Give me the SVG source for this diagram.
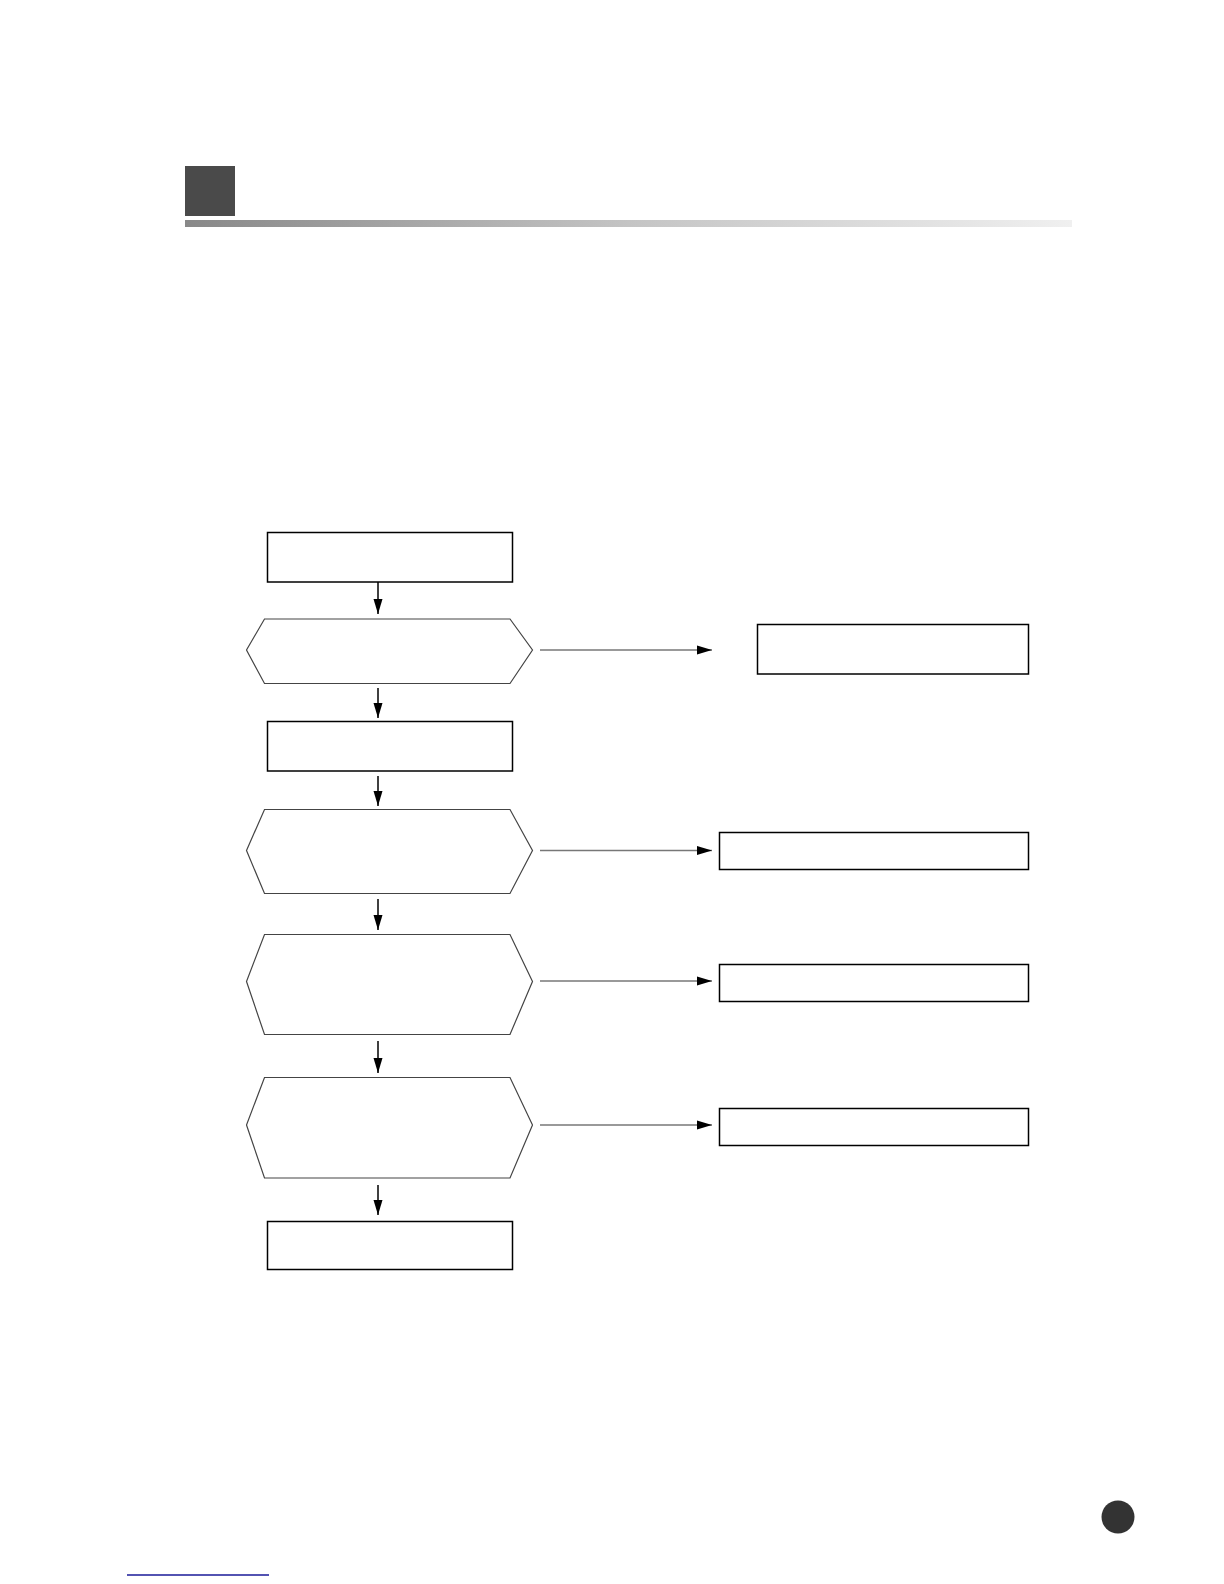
<svg xmlns="http://www.w3.org/2000/svg" width="1224" height="1584" viewBox="0 0 1224 1584">
<defs>
<linearGradient id="bar" x1="0" y1="0" x2="1" y2="0">
<stop offset="0" stop-color="#888"/>
<stop offset="0.5" stop-color="#c4c4c4"/>
<stop offset="1" stop-color="#f0f0f0"/>
</linearGradient>
<marker id="ah" markerWidth="16" markerHeight="10" refX="15" refY="5" orient="auto" markerUnits="userSpaceOnUse">
<path d="M0,0.5 L15,5 L0,9.5 Z" fill="#000"/>
</marker>
<style>
.box{fill:#fff;stroke:#000;stroke-width:1.5}
.hex{fill:#fff;stroke:#444;stroke-width:1.2}
.v{stroke:#000;stroke-width:1.5;fill:none}
.h{stroke:#777;stroke-width:1.5;fill:none}
</style>
</defs>
<rect width="1224" height="1584" fill="#fff"/>
<g id="header">
<rect x="185" y="166" width="50" height="50" fill="#4a4a4a"/>
<rect x="185" y="220" width="887" height="7" fill="url(#bar)"/>
</g>
<g id="connectors">
<line class="v" x1="378" y1="582" x2="378" y2="614" marker-end="url(#ah)"/>
<line class="v" x1="378" y1="688" x2="378" y2="718" marker-end="url(#ah)"/>
<line class="v" x1="378" y1="776" x2="378" y2="806" marker-end="url(#ah)"/>
<line class="v" x1="378" y1="899" x2="378" y2="930" marker-end="url(#ah)"/>
<line class="v" x1="378" y1="1041" x2="378" y2="1073" marker-end="url(#ah)"/>
<line class="v" x1="378" y1="1185" x2="378" y2="1215" marker-end="url(#ah)"/>
<line class="h" x1="540" y1="650" x2="712" y2="650" marker-end="url(#ah)"/>
<line class="h" x1="540" y1="850.5" x2="712" y2="850.5" marker-end="url(#ah)"/>
<line class="h" x1="540" y1="981" x2="712" y2="981" marker-end="url(#ah)"/>
<line class="h" x1="540" y1="1125" x2="712" y2="1125" marker-end="url(#ah)"/>
</g>
<g id="n1"><rect class="box" x="267.5" y="532.5" width="245" height="49.5"/></g>
<g id="d1"><polygon class="hex" points="264.5,619 510,619 532.5,650 510,683.5 264.5,683.5 246.5,650"/></g>
<g id="r1"><rect class="box" x="757.5" y="624.5" width="271" height="49.5"/></g>
<g id="n2"><rect class="box" x="267.5" y="721.5" width="245" height="49.5"/></g>
<g id="d2"><polygon class="hex" points="264.5,809.5 510,809.5 532.5,850.5 510,893.5 264.5,893.5 246.5,850.5"/></g>
<g id="r2"><rect class="box" x="719.5" y="832.5" width="309" height="37"/></g>
<g id="d3"><polygon class="hex" points="264.5,934.5 510,934.5 532.5,981.5 510,1034.5 264.5,1034.5 246.5,981.5"/></g>
<g id="r3"><rect class="box" x="719.5" y="964.5" width="309" height="37"/></g>
<g id="d4"><polygon class="hex" points="264.5,1077.5 510,1077.5 532.5,1125 510,1178 264.5,1178 246.5,1125"/></g>
<g id="r4"><rect class="box" x="719.5" y="1108.5" width="309" height="37"/></g>
<g id="n3"><rect class="box" x="267.5" y="1221.5" width="245" height="48"/></g>
<g id="footer">
<circle cx="1118" cy="1517" r="16.5" fill="#333"/>
<line x1="127" y1="1575" x2="269" y2="1575" stroke="#1a1a99" stroke-width="1.5"/>
</g>
</svg>
